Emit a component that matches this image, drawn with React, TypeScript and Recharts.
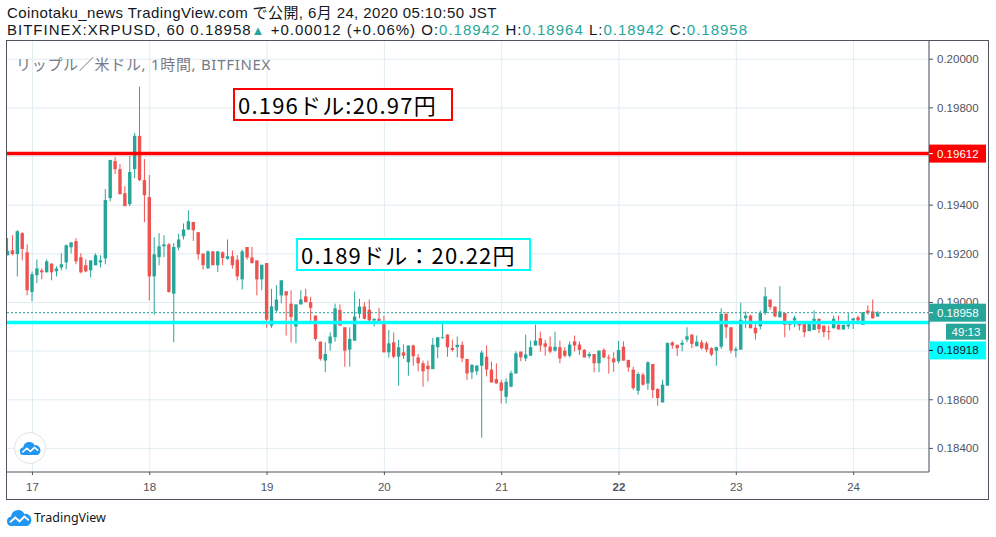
import React from "react"
import { ComposedChart, Bar, XAxis, YAxis, CartesianGrid, ReferenceLine } from "recharts"

// XRPUSD 1h candles, Jun 16 19:00 .. Jun 24 05:00
const opens = [
  0.19194, 0.19214, 0.19199, 0.19285, 0.19206, 0.19043, 0.19112, 0.19132, 0.19124, 0.19160,
  0.19128, 0.19144, 0.19165, 0.19227, 0.19252, 0.19186, 0.19153, 0.19132, 0.19153, 0.19165,
  0.19181, 0.19429, 0.19581, 0.19548, 0.19449, 0.19404, 0.19548, 0.19685, 0.19503, 0.19433,
  0.19107, 0.19186, 0.19231, 0.19239, 0.19036, 0.19226, 0.19272, 0.19300, 0.19331, 0.19289,
  0.19201, 0.19141, 0.19210, 0.19153, 0.19206, 0.19179, 0.19190, 0.19176, 0.19095, 0.19228,
  0.19185, 0.19173, 0.19095, 0.19162, 0.18905, 0.18967, 0.19029, 0.19046, 0.18995, 0.18901,
  0.18992, 0.19025, 0.19001, 0.18946, 0.18839, 0.18761, 0.18832, 0.18857, 0.18970, 0.18898,
  0.18806, 0.18843, 0.18953, 0.18983, 0.18970, 0.18926, 0.18933, 0.18923, 0.18795, 0.18836,
  0.18777, 0.18795, 0.18754, 0.18823, 0.18774, 0.18750, 0.18740, 0.18726, 0.18816, 0.18853,
  0.18868, 0.18813, 0.18816, 0.18826, 0.18768, 0.18713, 0.18717, 0.18740, 0.18777, 0.18724,
  0.18685, 0.18671, 0.18612, 0.18654, 0.18708, 0.18798, 0.18770, 0.18781, 0.18823, 0.18853,
  0.18832, 0.18818, 0.18802, 0.18816, 0.18802, 0.18781, 0.18840, 0.18827, 0.18805, 0.18779,
  0.18788, 0.18750, 0.18805, 0.18774, 0.18770, 0.18758, 0.18818, 0.18764, 0.18724, 0.18637,
  0.18703, 0.18667, 0.18747, 0.18644, 0.18589, 0.18658, 0.18836, 0.18826, 0.18826, 0.18847,
  0.18868, 0.18820, 0.18836, 0.18832, 0.18812, 0.18802, 0.18818, 0.18953, 0.18898, 0.18802,
  0.18806, 0.18935, 0.18946, 0.18896, 0.18902, 0.18957, 0.19012, 0.18983, 0.18939, 0.18957,
  0.18912, 0.18926, 0.18912, 0.18912, 0.18882, 0.18887, 0.18933, 0.18905, 0.18882, 0.18894,
  0.18908, 0.18889, 0.18902, 0.18926, 0.18939, 0.18908, 0.18967, 0.18963, 0.18942,
]
const highs = [
  0.19265, 0.19276, 0.19297, 0.19289, 0.19239, 0.19127, 0.19177, 0.19140, 0.19177, 0.19160,
  0.19149, 0.19202, 0.19239, 0.19247, 0.19264, 0.19202, 0.19177, 0.19173, 0.19202, 0.19194,
  0.19466, 0.19586, 0.19598, 0.19569, 0.19478, 0.19602, 0.19697, 0.19887, 0.19590, 0.19524,
  0.19268, 0.19285, 0.19276, 0.19244, 0.19244, 0.19283, 0.19325, 0.19379, 0.19331, 0.19289,
  0.19201, 0.19214, 0.19210, 0.19210, 0.19210, 0.19259, 0.19214, 0.19194, 0.19217, 0.19228,
  0.19228, 0.19173, 0.19155, 0.19162, 0.19056, 0.19071, 0.19091, 0.19046, 0.19050, 0.18992,
  0.19050, 0.19056, 0.19022, 0.18946, 0.18839, 0.18837, 0.18877, 0.18995, 0.18992, 0.18898,
  0.18898, 0.19045, 0.19015, 0.19001, 0.19012, 0.18933, 0.18978, 0.18946, 0.18887, 0.18877,
  0.18847, 0.18827, 0.18823, 0.18827, 0.18788, 0.18761, 0.18761, 0.18854, 0.18857, 0.18912,
  0.18868, 0.18847, 0.18860, 0.18840, 0.18768, 0.18747, 0.18743, 0.18802, 0.18823, 0.18757,
  0.18750, 0.18682, 0.18688, 0.18720, 0.18799, 0.18798, 0.18868, 0.18843, 0.18909, 0.18880,
  0.18846, 0.18860, 0.18880, 0.18843, 0.18816, 0.18840, 0.18864, 0.18840, 0.18809, 0.18795,
  0.18788, 0.18802, 0.18812, 0.18786, 0.18795, 0.18843, 0.18840, 0.18764, 0.18736, 0.18713,
  0.18710, 0.18758, 0.18747, 0.18648, 0.18682, 0.18834, 0.18840, 0.18826, 0.18846, 0.18898,
  0.18868, 0.18864, 0.18846, 0.18840, 0.18816, 0.18818, 0.18976, 0.18960, 0.18898, 0.18818,
  0.18999, 0.18963, 0.18950, 0.18923, 0.18967, 0.19063, 0.19012, 0.18983, 0.19067, 0.18957,
  0.18912, 0.18946, 0.18912, 0.18912, 0.18919, 0.18967, 0.18933, 0.18905, 0.18905, 0.18946,
  0.18946, 0.18908, 0.18956, 0.18935, 0.18946, 0.18960, 0.18988, 0.19012, 0.18964,
]
const lows = [
  0.19194, 0.19194, 0.19107, 0.19173, 0.19029, 0.19005, 0.19080, 0.19095, 0.19124, 0.19091,
  0.19107, 0.19132, 0.19136, 0.19202, 0.19157, 0.19120, 0.19124, 0.19103, 0.19153, 0.19144,
  0.19157, 0.19416, 0.19528, 0.19445, 0.19396, 0.19396, 0.19511, 0.19499, 0.19330, 0.19008,
  0.18950, 0.19153, 0.19186, 0.19040, 0.18836, 0.19214, 0.19259, 0.19297, 0.19253, 0.19176,
  0.19135, 0.19137, 0.19153, 0.19125, 0.19153, 0.19176, 0.19139, 0.19091, 0.19053, 0.19176,
  0.19160, 0.19029, 0.19050, 0.18896, 0.18896, 0.18960, 0.18997, 0.18864, 0.18836, 0.18832,
  0.18992, 0.19001, 0.18919, 0.18843, 0.18761, 0.18713, 0.18802, 0.18839, 0.18905, 0.18736,
  0.18736, 0.18843, 0.18935, 0.18930, 0.18915, 0.18901, 0.18923, 0.18795, 0.18774, 0.18770,
  0.18658, 0.18768, 0.18699, 0.18740, 0.18717, 0.18654, 0.18675, 0.18726, 0.18770, 0.18853,
  0.18777, 0.18798, 0.18774, 0.18754, 0.18681, 0.18685, 0.18702, 0.18444, 0.18696, 0.18671,
  0.18667, 0.18585, 0.18585, 0.18651, 0.18708, 0.18758, 0.18758, 0.18781, 0.18823, 0.18798,
  0.18781, 0.18791, 0.18798, 0.18750, 0.18774, 0.18774, 0.18799, 0.18784, 0.18774, 0.18770,
  0.18713, 0.18713, 0.18770, 0.18708, 0.18715, 0.18750, 0.18761, 0.18715, 0.18640, 0.18621,
  0.18658, 0.18641, 0.18607, 0.18575, 0.18589, 0.18658, 0.18809, 0.18779, 0.18799, 0.18836,
  0.18812, 0.18820, 0.18806, 0.18795, 0.18779, 0.18740, 0.18809, 0.18853, 0.18791, 0.18774,
  0.18806, 0.18894, 0.18894, 0.18847, 0.18889, 0.18949, 0.18970, 0.18939, 0.18939, 0.18857,
  0.18885, 0.18898, 0.18885, 0.18857, 0.18882, 0.18887, 0.18873, 0.18857, 0.18847, 0.18894,
  0.18889, 0.18889, 0.18891, 0.18891, 0.18919, 0.18908, 0.18949, 0.18933, 0.18942,
]
const closes = [
  0.19212, 0.19199, 0.19293, 0.19220, 0.19050, 0.19116, 0.19140, 0.19124, 0.19169, 0.19124,
  0.19140, 0.19157, 0.19235, 0.19247, 0.19169, 0.19124, 0.19128, 0.19173, 0.19194, 0.19173,
  0.19421, 0.19586, 0.19548, 0.19445, 0.19396, 0.19536, 0.19685, 0.19503, 0.19441, 0.19107,
  0.19198, 0.19231, 0.19239, 0.19043, 0.19228, 0.19259, 0.19300, 0.19334, 0.19297, 0.19198,
  0.19153, 0.19210, 0.19153, 0.19210, 0.19183, 0.19190, 0.19153, 0.19107, 0.19210, 0.19185,
  0.19162, 0.19095, 0.19155, 0.18929, 0.18984, 0.19012, 0.19091, 0.19029, 0.18940, 0.18992,
  0.19012, 0.19001, 0.18978, 0.18850, 0.18768, 0.18788, 0.18860, 0.18976, 0.18905, 0.18802,
  0.18850, 0.18942, 0.18983, 0.18933, 0.18926, 0.18933, 0.18923, 0.18795, 0.18832, 0.18777,
  0.18816, 0.18781, 0.18823, 0.18779, 0.18750, 0.18717, 0.18726, 0.18826, 0.18857, 0.18857,
  0.18816, 0.18805, 0.18826, 0.18770, 0.18708, 0.18743, 0.18740, 0.18794, 0.18724, 0.18671,
  0.18667, 0.18637, 0.18674, 0.18710, 0.18791, 0.18774, 0.18786, 0.18816, 0.18843, 0.18823,
  0.18818, 0.18798, 0.18818, 0.18770, 0.18781, 0.18827, 0.18823, 0.18805, 0.18774, 0.18788,
  0.18750, 0.18802, 0.18774, 0.18770, 0.18754, 0.18805, 0.18761, 0.18733, 0.18648, 0.18706,
  0.18662, 0.18754, 0.18640, 0.18607, 0.18662, 0.18834, 0.18823, 0.18812, 0.18834, 0.18861,
  0.18830, 0.18839, 0.18812, 0.18806, 0.18786, 0.18816, 0.18953, 0.18898, 0.18802, 0.18809,
  0.18929, 0.18946, 0.18894, 0.18873, 0.18957, 0.19025, 0.18981, 0.18943, 0.18963, 0.18908,
  0.18908, 0.18937, 0.18905, 0.18878, 0.18912, 0.18933, 0.18891, 0.18878, 0.18878, 0.18933,
  0.18889, 0.18908, 0.18909, 0.18935, 0.18926, 0.18960, 0.18956, 0.18935, 0.18958,
]

// candle number of each midnight, and its day label
const dayTicks = [6, 30, 54, 78, 102, 126, 150, 174]
const dayLabels = ["17", "18", "19", "20", "21", "22", "23", "24"]
const priceTicks = [0.184, 0.186, 0.188, 0.19, 0.192, 0.194, 0.196, 0.198, 0.2]

const resistance = 0.19612
const support = 0.18918
const lastPrice = 0.18958

const UP = "#26a69a"
const DOWN = "#ef5350"
const AXIS = "#50535e"
const AXIS_FONT = "Liberation Sans, Arial"

const yDomain = [0.18303, 0.20079]
const plotHeight = 460 - 28
const pxPerUnit = plotHeight / (yDomain[1] - yDomain[0])

// price tags drawn on the scale, painted after the ordinary tick labels
const tags = [
  { price: lastPrice, bg: UP, fg: "#fff", shift: 0, timer: "49:13" },
  { price: resistance, bg: "#ff0000", fg: "#fff", shift: 0, timer: "" },
  { price: support, bg: "#00ffff", fg: "#131722", shift: 28, timer: "" },
]

const candles = opens.map((o, k) => ({
  i: k + 1,
  open: o,
  high: highs[k],
  low: lows[k],
  close: closes[k],
  range: [lows[k], highs[k]],
}))

function Candle(props: any) {
  const { x, y, width, height, payload } = props
  const { open, close, high, low } = payload
  const k = high > low ? height / (high - low) : 0
  const yO = y + (high - open) * k
  const yC = y + (high - close) * k
  const color = close >= open ? UP : DOWN
  const cx = x + width / 2
  const top = Math.min(yO, yC)
  const h = Math.max(1, Math.abs(yO - yC))
  return (
    <g>
      <line x1={cx} x2={cx} y1={y} y2={y + height} stroke={color} strokeWidth={1} />
      <rect x={cx - 1.7} y={top} width={3.4} height={h} fill={color} />
    </g>
  )
}

function DayTick(props: any) {
  const { x, y, payload } = props
  const label = dayLabels[dayTicks.indexOf(payload.value)]
  return (
    <text x={x} y={y} dy="0.71em" textAnchor="middle" fill={AXIS} fontSize={11.5}
      fontFamily={AXIS_FONT} fontWeight={label === "22" ? "bold" : "normal"}>
      {label}
    </text>
  )
}

function PriceTick(props: any) {
  const { x, y, payload } = props
  const v = payload.value
  const tag = tags.find((t) => t.price === v)
  if (!tag) {
    // a label that sits fully under a price tag is not visible in the original
    const covered = tags.some((t) => Math.abs((t.price - v) * pxPerUnit - t.shift) < 8)
    return (
      <g>
        <line x1={x} x2={x + 4} y1={y} y2={y} stroke={AXIS} />
        {!covered && (
          <text x={x + 8} y={y} dy="0.35em" fill={AXIS} fontSize={11.5} fontFamily={AXIS_FONT}>
            {v.toFixed(5)}
          </text>
        )}
      </g>
    )
  }
  const ty = y + tag.shift
  return (
    <g>
      <rect x={x} y={ty - 9} width={57} height={18} fill={tag.bg} />
      <line x1={x} x2={x + 4} y1={ty} y2={ty} stroke={tag.fg} />
      <text x={x + 8} y={ty} dy="0.35em" fill={tag.fg} fontSize={11.5} fontFamily={AXIS_FONT}>
        {v.toFixed(5)}
      </text>
      {tag.timer && (
        <g>
          <rect x={x + 17} y={ty + 11} width={40} height={16} fill={tag.bg} />
          <text x={x + 37} y={ty + 19} dy="0.35em" textAnchor="middle" fill={tag.fg} fontSize={11.5}
            fontFamily={AXIS_FONT}>
            {tag.timer}
          </text>
        </g>
      )}
    </g>
  )
}

function Cloud({ size, color }: { size: number; color: string }) {
  return (
    <svg width={size} height={size * 0.66} viewBox="0 0 24 16">
      <path d="M5 16 A4.6 4.6 0 0 1 4.6 6.9 A6.6 6.6 0 0 1 17 4.6 A5.7 5.7 0 0 1 18.6 16 Z" fill={color} />
      <polyline points="3.5,12.5 8.5,8 12.5,11.5 17,7 21,10.5" fill="none" stroke="#fff" strokeWidth={1.8} />
    </svg>
  )
}

const teal = { color: UP }
const boxText = {
  position: "absolute" as const,
  height: 33,
  boxSizing: "border-box" as const,
  background: "#fff",
  fontSize: 22,
  letterSpacing: 1.2,
  lineHeight: "29px",
  paddingLeft: 3,
  fontFamily: '"Noto Sans CJK JP", sans-serif',
  color: "#000",
  whiteSpace: "nowrap" as const,
}
const headerLine = {
  position: "absolute" as const,
  left: 7,
  fontSize: 15,
  lineHeight: "16px",
  color: "#131722",
  fontFamily: '"Liberation Sans", "Noto Sans CJK JP", sans-serif',
  whiteSpace: "nowrap" as const,
}

export default function App() {
  return (
    <div style={{ position: "absolute", left: 0, top: 0, width: 996, height: 537, background: "#fff", overflow: "hidden" }}>
      <div style={{ ...headerLine, top: 5, letterSpacing: 0.4 }}>
        Coinotaku_news TradingView.com で公開, 6月 24, 2020 05:10:50 JST
      </div>
      <div style={{ ...headerLine, top: 22, letterSpacing: 1.0 }}>
        BITFINEX:XRPUSD, 60 0.18958<span style={{ ...teal, fontSize: 13 }}>▲</span> +0.00012 (+0.06%) O:
        <span style={teal}>0.18942</span> H:<span style={teal}>0.18964</span> L:
        <span style={teal}>0.18942</span> C:<span style={teal}>0.18958</span>
      </div>

      <div style={{ position: "absolute", left: 6, top: 40 }}>
        <ComposedChart width={983} height={460} data={candles} margin={{ top: 0, right: 0, bottom: 0, left: 0 }}>
          <CartesianGrid stroke="#e1ecf2" horizontalValues={priceTicks} />
          <XAxis type="number" dataKey="i" domain={[0.59, 189.42]} allowDataOverflow ticks={dayTicks}
            height={28} stroke={AXIS} tickSize={3} tickMargin={8} tick={<DayTick />} />
          <Bar dataKey="range" barSize={4} shape={<Candle />} isAnimationActive={false} />
          <ReferenceLine y={lastPrice} stroke={UP} strokeDasharray="2 2" />
          <ReferenceLine y={resistance} stroke="#ff0000" strokeWidth={3.5} />
          <ReferenceLine y={support} stroke="#00ffff" strokeWidth={3.5} />
          <YAxis orientation="right" domain={yDomain} allowDataOverflow
            ticks={[...priceTicks, ...tags.map((t) => t.price)]} interval={0}
            width={60} stroke={AXIS} tickLine={false} tickSize={0} tickMargin={0} tick={<PriceTick />} />
        </ComposedChart>
      </div>

      <div style={{ position: "absolute", left: 6, top: 40, width: 983, height: 460, border: `1px solid ${AXIS}`,
        boxSizing: "border-box", pointerEvents: "none" }} />

      <div style={{ position: "absolute", left: 16, top: 53, fontSize: 15, letterSpacing: 0.7, color: "#787b86",
        fontFamily: '"Noto Sans", "Noto Sans CJK JP", sans-serif', whiteSpace: "nowrap" }}>
        リップル／米ドル, 1時間, BITFINEX
      </div>

      <div style={{ ...boxText, left: 233, top: 88, width: 220, border: "2px solid #ff0000" }}>
        0.196ドル:20.97円
      </div>
      <div style={{ ...boxText, left: 296, top: 238, width: 235, border: "2px solid #00ffff" }}>
        0.189ドル：20.22円
      </div>

      <div style={{ position: "absolute", left: 14, top: 432, width: 32, height: 32, borderRadius: 16,
        border: "1px solid #e0e3eb", background: "#fff", boxSizing: "border-box",
        display: "flex", alignItems: "center", justifyContent: "center" }}>
        <Cloud size={22} color="#2196f3" />
      </div>

      <div style={{ position: "absolute", left: 6, top: 509, display: "flex", alignItems: "center", gap: 2,
        fontSize: 12.5, color: "#131722", fontFamily: '"Noto Sans", sans-serif' }}>
        <Cloud size={26} color="#2196f3" />
        <span>TradingView</span>
      </div>
    </div>
  )
}
